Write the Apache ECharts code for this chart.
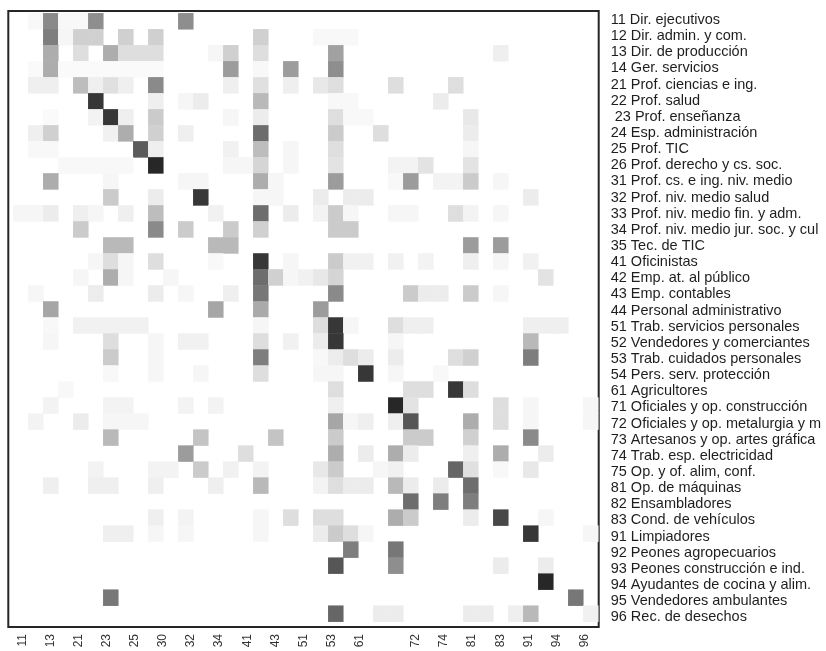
<!DOCTYPE html>
<html>
<head>
<meta charset="utf-8">
<script src="https://cdn.jsdelivr.net/npm/echarts@6/dist/echarts.min.js"></script>
<style>
  html, body { margin: 0; padding: 0; background: #ffffff; }
  #chart { width: 826px; height: 651px; }
</style>
</head>
<body>
<div id="chart"></div>
<script>
// Occupation codes along the columns
const colCodes = [11, 12, 13, 14, 21, 22, 23, 24, 25, 26, 30, 31, 32, 33, 34, 35, 41, 42, 43, 44,
  51, 52, 53, 54, 61, 71, 72, 73, 74, 75, 81, 82, 83, 91, 92, 93, 94, 95, 96];

// Occupation names down the rows
const rowLabels = [
  '11 Dir. ejecutivos', '12 Dir. admin. y com.', '13 Dir. de producción', '14 Ger. servicios',
  '21 Prof. ciencias e ing.', '22 Prof. salud', ' 23 Prof. enseñanza', '24 Esp. administración',
  '25 Prof. TIC', '26 Prof. derecho y cs. soc.', '31 Prof. cs. e ing. niv. medio',
  '32 Prof. niv. medio salud', '33 Prof. niv. medio fin. y adm.', '34 Prof. niv. medio jur. soc. y cul',
  '35 Tec. de TIC', '41 Oficinistas', '42 Emp. at. al público', '43 Emp. contables',
  '44 Personal administrativo', '51 Trab. servicios personales', '52 Vendedores y comerciantes',
  '53 Trab. cuidados personales', '54 Pers. serv. protección', '61 Agricultores',
  '71 Oficiales y op. construcción', '72 Oficiales y op. metalurgia y m', '73 Artesanos y op. artes gráfica',
  '74 Trab. esp. electricidad', '75 Op. y of. alim, conf.', '81 Op. de máquinas', '82 Ensambladores',
  '83 Cond. de vehículos', '91 Limpiadores', '92 Peones agropecuarios', '93 Peones construcción e ind.',
  '94 Ayudantes de cocina y alim.', '95 Vendedores ambulantes', '96 Rec. de desechos'
];

// Bottom axis tick labels (every other slot; one slot left blank)
const xTickLabels = ['11', '13', '21', '23', '25', '30', '32', '34', '41', '43', '51', '53', '61', '',
  '72', '74', '81', '83', '91', '94', '96'];

// Cell intensity (0 = none, 100 = strongest), one row per occupation, columns follow colCodes
const intensity = [
  [0,3,50,3, 3,48,0,0,0,0, 0,48,0,0,0,0, 0,0,0,0, 0,0,0,0, 0, 0,0,0,0,0, 0,0,0, 0,0,0,0,0,0],
  [0,0,55,4, 20,20,0,20,0,20, 0,0,0,0,0,0, 20,0,0,0, 3,3,3,0, 0, 0,0,0,0,0, 0,0,0, 0,0,0,0,0,0],
  [0,0,35,0, 14,0,35,14,14,14, 0,0,0,4,20,0, 14,0,0,0, 0,40,0,0, 0, 0,0,0,0,0, 0,0,7, 0,0,0,0,0,0],
  [0,2,35,2, 2,2,2,2,2,2, 0,0,0,0,42,0, 3,0,42,0, 0,48,0,0, 0, 0,0,0,0,0, 0,0,0, 0,0,0,0,0,0],
  [0,7,7,0, 28,7,13,7,0,50, 0,0,0,0,7,0, 13,0,7,0, 10,14,0,0, 0, 14,0,0,0,14, 0,0,0, 0,0,0,0,0,0],
  [0,0,0,0, 0,85,0,0,0,7, 0,4,8,0,0,0, 30,0,0,0, 0,3,3,0, 0, 0,0,0,8,0, 0,0,0, 0,0,0,0,0,0],
  [0,0,2,0, 0,5,85,7,0,22, 0,0,0,0,4,0, 8,0,0,0, 0,14,3,3, 0, 0,0,0,0,0, 10,0,0, 0,0,0,0,0,0],
  [0,7,20,0, 0,0,6,35,0,20, 0,7,0,0,0,0, 62,0,0,0, 0,22,0,0, 14, 0,0,0,0,0, 8,0,0, 0,0,0,0,0,0],
  [0,3,3,0, 0,0,0,0,70,7, 0,0,0,0,6,0, 28,0,4,0, 0,14,0,0, 0, 0,0,0,0,0, 4,0,0, 0,0,0,0,0,0],
  [0,0,0,3, 3,3,3,3,0,92, 0,0,0,0,4,4, 18,0,4,0, 0,12,0,0, 0, 5,5,12,0,0, 12,0,0, 0,0,0,0,0,0],
  [0,0,35,0, 0,0,4,0,0,0, 0,4,4,0,0,0, 35,4,0,0, 0,42,0,0, 0, 3,42,0,5,5, 22,0,4, 0,0,0,0,0,0],
  [0,0,0,0, 0,0,22,0,0,8, 0,0,85,0,0,0, 4,4,0,0, 8,0,8,8, 0, 0,0,0,0,0, 0,0,0, 0,8,0,0,0,0],
  [4,4,8,0, 7,4,0,7,0,28, 0,0,0,6,0,0, 62,0,8,0, 5,22,4,0, 0, 4,4,0,0,14, 5,0,4, 0,0,0,0,0,0],
  [0,0,0,0, 22,0,0,0,0,50, 0,22,0,0,22,0, 20,0,0,0, 0,22,22,0, 0, 0,0,0,0,0, 0,0,0, 0,0,0,0,0,0],
  [0,0,0,0, 0,0,30,30,0,0, 0,0,0,30,30,0, 0,0,0,0, 0,0,0,0, 0, 0,0,0,0,0, 42,0,42, 0,0,0,0,0,0],
  [0,0,0,0, 0,4,14,4,0,14, 0,0,0,3,0,0, 85,0,4,0, 0,22,6,6, 0, 6,0,5,0,0, 7,0,4, 0,6,0,0,0,0],
  [0,0,0,0, 4,0,35,4,0,0, 4,0,0,0,0,0, 62,20,4,6, 10,18,0,0, 0, 0,0,0,0,0, 0,0,0, 0,0,12,0,0,0],
  [0,4,0,0, 0,8,0,0,0,8, 0,4,0,0,7,0, 58,0,0,0, 0,50,0,0, 0, 0,22,8,8,0, 22,0,4, 0,0,0,0,0,0],
  [0,0,38,0, 0,0,0,0,0,0, 0,0,0,38,0,0, 36,0,0,0, 42,0,0,0, 0, 0,0,0,0,0, 0,0,0, 0,0,0,0,0,0],
  [0,0,3,0, 6,6,6,6,6,0, 0,0,0,0,0,0, 4,0,0,0, 14,85,4,0, 0, 14,7,7,0,0, 0,0,0, 0,7,7,7,0,0],
  [0,0,4,0, 0,0,14,0,0,4, 0,6,6,0,0,0, 14,0,6,0, 8,85,0,0, 0, 4,0,0,0,0, 0,0,0, 0,30,0,0,0,0],
  [0,0,0,0, 0,0,22,0,0,4, 0,0,0,0,0,0, 55,0,0,0, 3,8,14,8, 0, 8,0,0,0,14, 20,0,0, 0,55,0,0,0,0],
  [0,0,0,0, 0,0,3,0,0,4, 0,0,4,0,0,0, 14,0,0,0, 4,4,0,85, 0, 4,0,0,3,0, 0,0,0, 0,0,0,0,0,0],
  [0,0,0,3, 0,0,0,0,0,0, 0,0,0,0,0,0, 0,0,0,0, 0,14,0,0, 0, 0,14,14,0,85, 14,0,0, 0,0,0,0,0,0],
  [0,0,5,0, 0,0,5,5,0,0, 0,5,0,5,0,0, 0,0,0,0, 0,7,0,0, 0, 92,12,0,0,0, 0,0,14, 0,4,0,0,0,4],
  [0,5,0,0, 8,0,4,4,4,0, 0,0,0,0,0,0, 0,0,0,0, 0,38,4,7, 0, 7,72,0,0,0, 35,0,14, 0,4,0,0,0,4],
  [0,0,0,0, 0,0,30,0,0,0, 0,0,25,0,0,0, 0,25,0,0, 0,22,0,0, 0, 0,22,22,0,0, 20,0,0, 0,50,0,0,0,0],
  [0,0,0,0, 0,0,0,0,0,0, 0,42,0,0,0,14, 0,0,0,0, 0,35,0,8, 0, 35,8,0,0,0, 7,0,35, 0,0,8,0,0,0],
  [0,0,0,0, 0,5,0,0,0,5, 5,0,22,0,6,0, 5,0,0,0, 10,22,0,0, 4, 6,0,0,0,65, 13,0,3, 0,10,0,0,0,0],
  [0,0,7,0, 0,7,7,0,0,7, 0,0,0,7,0,0, 30,0,0,0, 5,14,8,8, 0, 30,8,0,8,0, 62,0,0, 0,0,0,0,0,0],
  [0,0,0,0, 0,0,0,0,0,0, 0,0,0,0,0,0, 0,0,0,0, 0,0,0,0, 0, 0,62,0,55,0, 55,0,0, 0,0,0,0,0,0],
  [0,0,0,0, 0,0,0,0,0,7, 0,5,0,0,0,0, 4,0,14,0, 14,14,0,0, 0, 35,22,0,0,0, 8,0,78, 0,0,4,0,0,0],
  [0,0,0,0, 0,0,7,7,0,4, 0,4,0,0,0,0, 4,0,0,0, 8,22,14,4, 0, 0,0,0,0,0, 0,0,0, 0,85,0,0,0,4],
  [0,0,0,0, 0,0,0,0,0,0, 0,0,0,0,0,0, 0,0,0,0, 0,0,55,0, 0, 58,0,0,0,0, 0,0,0, 0,0,0,0,0,0],
  [0,0,0,0, 0,0,0,0,0,0, 0,0,0,0,0,0, 0,0,0,0, 0,72,0,0, 0, 48,0,0,0,0, 0,0,8, 0,0,8,0,0,0],
  [0,0,0,0, 0,0,0,0,0,0, 0,0,0,0,0,0, 0,0,0,0, 0,0,0,0, 0, 0,0,0,0,0, 0,0,0, 0,0,92,0,0,0],
  [0,0,0,0, 0,0,58,0,0,0, 0,0,0,0,0,0, 0,0,0,0, 0,0,0,0, 0, 0,0,0,0,0, 0,0,0, 0,0,0,0,58,0],
  [0,0,0,0, 0,0,0,0,0,0, 0,0,0,0,0,0, 0,0,0,0, 0,65,0,0, 8, 8,0,0,0,0, 8,8,0, 7,30,0,0,0,6]
];

// Heatmap triples [column, row, value]; empty cells stay white
const cells = [];
intensity.forEach((row, r) => {
  row.forEach((v, c) => { if (v > 0) cells.push([c, r, v]); });
});

// Tick slots for the bottom label axis: labels sit on every other slot
const xSlots = [];
for (let j = 0; j <= 2 * xTickLabels.length; j++) {
  xSlots.push(j % 2 === 1 ? xTickLabels[(j - 1) / 2] : '');
}

const FONT = '"Liberation Sans", Arial, Helvetica, sans-serif';
const chart = echarts.init(document.getElementById('chart'), null, { renderer: 'canvas' });

chart.setOption({
  animation: false,
  backgroundColor: '#ffffff',
  textStyle: { fontFamily: FONT },
  grid: [
    // cell area
    { left: 13.3, top: 13.3, width: 585, height: 608.4, show: false },
    // frame and bottom labels
    { left: 8.3, top: 11, width: 590.4, height: 616, show: true,
      borderColor: '#262626', borderWidth: 2, backgroundColor: 'transparent' },
    // row names on the right
    { left: 8.3, top: 12, width: 590.4, height: 613.4, show: false }
  ],
  xAxis: [
    { type: 'category', gridIndex: 0, data: colCodes.map(String), show: false },
    { type: 'category', gridIndex: 1, data: xSlots, boundaryGap: false,
      axisLine: { show: false }, axisTick: { show: false }, splitLine: { show: false },
      axisLabel: { interval: 0, rotate: 90, fontSize: 12, color: '#333333', margin: 7, fontFamily: FONT } },
    { type: 'category', gridIndex: 2, data: colCodes.map(String), show: false }
  ],
  yAxis: [
    { type: 'category', gridIndex: 0, data: rowLabels, inverse: true, show: false },
    { type: 'category', gridIndex: 1, data: rowLabels, inverse: true, show: false },
    { type: 'category', gridIndex: 2, data: rowLabels, inverse: true, position: 'right',
      axisLine: { show: false }, axisTick: { show: false }, splitLine: { show: false },
      axisLabel: { interval: 0, fontSize: 14.5, color: '#1e1e1e', margin: 12, align: 'left', fontFamily: FONT } }
  ],
  visualMap: {
    show: false, min: 0, max: 100, seriesIndex: 0,
    inRange: { color: ['#ffffff', '#141414'] }
  },
  series: [{
    type: 'heatmap',
    xAxisIndex: 0,
    yAxisIndex: 0,
    data: cells,
    itemStyle: { borderWidth: 0 },
    emphasis: { disabled: true }
  }]
});
</script>
</body>
</html>
